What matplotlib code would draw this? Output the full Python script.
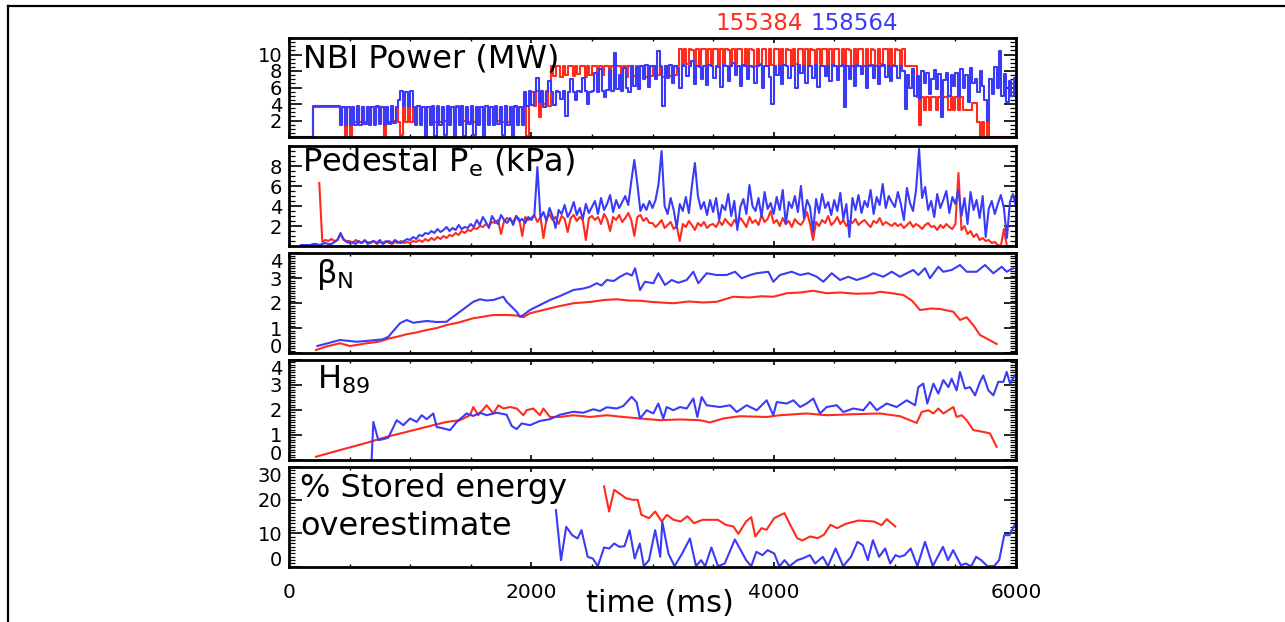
import numpy as np
import matplotlib
matplotlib.use("Agg")
import matplotlib.pyplot as plt
from matplotlib.lines import Line2D
from matplotlib.ticker import MultipleLocator

plt.rcParams["font.family"] = ["DejaVu Sans"]
plt.rcParams["mathtext.fontset"] = "dejavusans"

RED = "#ff2b1c"
BLUE = "#3b3bf7"
nan = np.nan

SHOT_RED = "155384"
SHOT_BLUE = "158564"

# NBI power (MW), one sample every 20 ms from t = 0 (25 samples per row)
NBI_DT = 20
nbi_red = [
    0, 0, 0, 0, 0, 0, 0, 0, 0, 0, 3.6, 3.6, 3.6, 3.6, 3.6, 3.6, 3.6, 3.6, 3.6, 3.6, 3.6, 1.8, 3.6, 0.1, 3.6,
    0.1, 3.6, 1.8, 3.6, 1.8, 3.6, 1.8, 3.6, 1.9, 3.6, 1.8, 3.6, 1.8, 3.6, 0.1, 3.6, 1.8, 3.6, 1.9, 3.6, 1.8, 0.2, 3.6, 1.8, 3.7,
    1.8, 3.6, 1.8, 3.7, 1.8, 3.6, 1.9, 3.6, 1.8, 3.6, 1.8, 3.7, 1.8, 3.6, 1.9, 3.6, 1.8, 3.6, 1.8, 3.7, 1.8, 3.6, 1.9, 3.6, 1.8,
    3.6, 1.8, 3.6, 1.9, 3.6, 1.8, 3.7, 1.8, 3.6, 1.8, 3.6, 1.9, 3.6, 1.8, 3.7, 1.8, 3.6, 1.8, 3.6, 1.9, 3.6, 1.8, 4.0, 0.1, 4.2,
    5.5, 3.7, 5.6, 2.4, 5.5, 4.0, 5.6, 3.8, 8.6, 7.4, 8.6, 8.6, 7.3, 8.6, 7.5, 8.6, 8.6, 7.4, 8.6, 7.6, 8.6, 8.6, 7.3, 8.6, 7.5,
    8.6, 8.6, 7.4, 8.6, 7.5, 8.6, 8.6, 7.3, 8.6, 7.4, 8.6, 8.6, 7.5, 8.6, 7.3, 8.6, 8.6, 7.4, 8.6, 7.5, 8.6, 8.6, 7.3, 8.6, 7.4,
    8.6, 8.6, 7.5, 8.6, 7.3, 8.6, 8.6, 7.4, 8.6, 7.5, 8.6, 10.7, 8.6, 10.7, 8.8, 10.7, 10.6, 8.6, 10.7, 8.7, 10.7, 10.7, 8.6, 10.7, 8.8,
    10.7, 10.7, 8.6, 10.7, 8.7, 10.7, 10.6, 8.6, 10.7, 8.8, 10.7, 10.7, 8.6, 10.7, 8.7, 10.7, 10.6, 8.6, 10.7, 8.8, 10.7, 10.7, 8.6, 10.7, 8.7,
    10.7, 10.7, 8.6, 10.7, 8.7, 10.7, 10.6, 8.6, 10.7, 8.8, 10.7, 10.7, 8.6, 10.7, 8.7, 10.7, 10.6, 8.6, 10.7, 8.8, 10.7, 10.7, 8.6, 10.7, 8.7,
    10.7, 10.7, 8.6, 10.7, 8.7, 10.7, 10.6, 8.6, 10.7, 8.8, 10.7, 10.7, 8.6, 10.7, 8.7, 10.7, 10.6, 8.6, 10.7, 8.8, 10.7, 10.7, 8.6, 10.7, 8.7,
    10.7, 10.6, 8.6, 10.7, 8.6, 8.6, 8.6, 8.6, 8.6, 4.9, 1.5, 4.9, 3.3, 4.9, 3.3, 4.9, 4.9, 3.3, 4.9, 3.3, 4.9, 4.9, 3.3, 4.9, 3.3,
    4.9, 3.3, 4.9, 3.3, 3.3, 3.3, 3.3, 4.1, 4.1, 1.85, 0, 1.85, 0, 1.85, 0, 0, 0, 0, 0, 0, 0, 0, 0, 0, 0,
    0,
]
nbi_blue = [
    0, 0, 0, 0, 0, 0, 0, 0, 0, 0, 3.7, 3.7, 3.7, 3.7, 3.7, 3.7, 3.7, 3.7, 3.7, 3.7, 3.7, 1.5, 3.6, 1.5, 3.6,
    1.4, 3.6, 1.5, 3.7, 1.5, 3.6, 1.6, 3.6, 1.5, 3.6, 1.5, 3.7, 1.6, 3.6, 1.5, 3.6, 1.6, 3.7, 1.7, 3.6, 4.5, 5.6, 3.7, 5.5, 3.8,
    5.6, 3.6, 1.5, 3.7, 1.4, 3.6, 0.1, 3.6, 1.5, 3.7, 0.1, 3.6, 1.5, 3.6, 0.2, 3.7, 1.5, 3.6, 0.1, 3.6, 1.5, 3.7, 0.1, 3.6, 1.6,
    3.7, 0.2, 3.6, 1.5, 3.6, 0.1, 3.7, 1.5, 3.6, 1.5, 3.7, 1.6, 3.6, 0.2, 3.7, 1.5, 3.6, 0.1, 3.7, 1.5, 3.6, 1.5, 5.5, 3.8, 5.6,
    3.9, 5.5, 7.1, 4.2, 5.6, 3.6, 5.5, 6.8, 5.4, 3.9, 5.6, 5.5, 4.6, 5.6, 2.5, 5.5, 7.0, 5.5, 4.5, 5.6, 5.5, 7.2, 5.6, 4.0, 5.5,
    5.6, 7.8, 5.5, 8.2, 5.6, 4.8, 5.7, 8.0, 5.6, 10.2, 5.8, 7.5, 5.6, 8.4, 6.0, 5.5, 8.6, 6.2, 8.5, 5.8, 8.6, 7.0, 8.7, 6.1, 8.6,
    8.6, 7.0, 10.4, 8.5, 3.8, 8.6, 7.2, 8.7, 6.5, 8.6, 8.4, 6.0, 8.7, 8.6, 7.4, 8.6, 9.2, 6.4, 8.6, 8.5, 7.0, 8.6, 6.3, 8.7, 8.6,
    7.2, 8.6, 8.5, 6.1, 8.7, 8.6, 6.8, 8.6, 9.0, 7.5, 8.6, 6.2, 8.7, 8.6, 7.0, 8.6, 8.5, 6.6, 8.6, 8.7, 5.9, 8.6, 8.6, 7.3, 4.0,
    8.6, 7.5, 8.6, 6.4, 8.7, 8.6, 7.1, 8.6, 8.6, 6.0, 8.7, 7.8, 8.6, 6.5, 8.6, 8.6, 7.2, 8.7, 6.1, 8.6, 8.6, 7.4, 8.6, 6.8, 8.7,
    8.6, 6.9, 8.6, 8.7, 3.6, 8.6, 7.0, 8.6, 6.2, 8.7, 8.6, 7.6, 8.6, 6.0, 8.6, 8.7, 7.1, 8.6, 6.4, 8.6, 8.7, 7.3, 8.6, 6.8, 8.6,
    8.6, 7.2, 8.6, 8.0, 3.4, 7.5, 6.0, 8.2, 5.0, 7.4, 4.6, 8.0, 6.5, 7.7, 5.2, 7.0, 8.1, 5.8, 7.6, 2.4, 6.9, 7.8, 5.0, 7.5, 6.2,
    7.8, 5.0, 8.2, 6.0, 7.5, 4.2, 8.4, 6.6, 7.0, 5.5, 8.0, 6.2, 4.5, 2.0, 7.0, 5.2, 8.5, 6.0, 10.4, 5.0, 7.6, 4.2, 6.8, 5.0, 7.2,
    5.8,
]

# pedestal electron pressure (kPa), one sample every 25 ms (20 per row)
PE_DT = 25
pe_red = [
    nan, nan, nan, nan, nan, nan, nan, nan, nan, nan, 6.3, 0.4, 0.6, 0.5, 0.7, 0.5, 0.6, 1.2, 0.6, 0.5,
    0.5, 0.3, 0.6, 0.4, 0.3, 0.5, 0.4, 0.3, 0.5, 0.2, 0.4, 0.3, 0.5, 0.3, 0.2, 0.4, 0.3, 0.5, 0.3, 0.4,
    0.3, 0.5, 0.4, 0.6, 0.4, 0.7, 0.5, 0.8, 0.6, 0.9, 0.7, 1.0, 0.8, 1.1, 1.0, 1.3, 1.1, 1.5, 1.3, 1.6,
    1.5, 1.8, 1.7, 2.0, 1.9, 2.2, 2.0, 2.4, 2.3, 2.6, 1.2, 2.5, 2.8, 2.6, 2.4, 3.0, 2.7, 1.0, 2.9, 2.6,
    2.8, 3.1, 2.4, 2.9, 0.8, 2.7, 3.2, 2.6, 2.9, 2.2, 3.0, 2.7, 1.4, 2.8, 3.1, 2.5, 2.9, 2.6, 0.6, 2.8,
    3.0, 2.6, 2.9, 2.2, 3.2, 2.7, 1.5, 2.9, 2.6, 3.1, 2.4, 2.8, 3.3, 2.6, 1.0, 2.9, 3.1, 2.5, 2.8, 2.3,
    2.3, 1.9, 2.2, 2.6, 1.8, 2.1, 2.4, 1.7, 2.0, 0.5, 2.2, 1.9, 2.5, 2.1, 1.6, 2.3, 2.0, 2.4, 1.8, 2.1,
    2.2, 1.9, 2.5, 2.1, 2.7, 2.3, 2.0, 2.6, 2.2, 2.8, 2.4, 1.9, 2.9, 2.3, 2.6, 2.1, 3.1, 2.4, 2.7, 3.5,
    2.3, 2.6, 2.0, 2.8, 2.2, 2.5, 1.9, 2.7, 2.3, 2.1, 2.6, 3.4, 2.2, 0.6, 2.4, 2.0, 2.6, 2.3, 3.0, 2.1,
    2.4, 2.9, 2.2, 2.6, 2.0, 2.5, 2.3, 2.7, 2.1, 2.4, 2.6, 2.2, 1.9, 2.5, 2.3, 2.8, 2.1, 2.4, 2.2, 2.0,
    2.3, 2.0, 2.2, 1.8, 2.1, 2.4, 1.9, 2.2, 2.0, 1.7, 2.1, 2.3, 1.9, 2.0, 1.6, 2.1, 1.8, 2.2, 1.9, 1.7,
    2.2, 7.3, 1.6, 2.0, 1.2, 1.5, 0.9, 1.2, 0.6, 0.8, 0.5, 0.6, 0.3, 0.4, 0.1, 0.0, 1.7, 0.0, 0.0, 0.0,
    0.0,
]
pe_blue = [
    nan, nan, nan, nan, 0.1, 0.1, 0.1, 0.1, 0.2, 0.2, 0.1, 0.2, 0.3, 0.2, 0.2, 0.4, 0.6, 1.3, 0.7, 0.4,
    0.3, 0.4, 0.2, 0.5, 0.3, 0.6, 0.2, 0.4, 0.5, 0.3, 0.6, 0.2, 0.4, 0.5, 0.3, 0.6, 0.4, 0.3, 0.5, 0.7,
    0.6, 0.9, 0.7, 1.1, 1.0, 1.3, 1.2, 1.5, 1.3, 1.7, 1.4, 1.6, 1.9, 1.5, 1.8, 1.6, 2.1, 1.7, 1.9, 1.8,
    2.2, 1.9, 2.6, 2.1, 2.9, 2.4, 1.8, 3.0, 2.5, 2.2, 3.1, 2.6, 2.3, 2.8, 2.1, 3.0, 2.5, 2.7, 2.3, 2.9,
    2.6, 3.1, 7.9, 2.8, 3.4, 2.5, 3.8, 3.0, 1.8, 3.6, 3.2, 4.1, 2.9, 3.5, 4.4, 3.1, 3.8, 2.7, 4.2, 3.3,
    3.9, 4.5, 3.2, 4.8, 3.6, 4.2, 5.1, 3.4, 4.6, 3.8, 4.4, 5.0, 4.1, 6.5, 8.6, 6.2, 3.5, 4.2, 3.6, 4.5,
    3.8, 4.6, 6.2, 9.5, 4.0, 3.2, 4.8, 3.6, 1.8, 4.2, 3.5, 4.9, 3.3, 6.0, 8.3, 5.0, 3.7, 4.4, 3.1, 4.6,
    3.4, 4.8, 2.6, 4.1, 3.6, 5.2, 3.0, 4.5, 1.6, 3.9, 4.7, 3.2, 6.1, 4.0, 3.5, 4.8, 2.9, 5.4, 3.7, 4.3,
    3.2, 4.9, 3.6, 5.6, 2.2, 4.4, 3.8, 5.0, 3.4, 6.0, 2.8, 4.6, 3.9, 1.4, 4.7, 3.3, 5.2, 3.8, 4.4, 3.1,
    4.6, 3.5, 5.3, 2.7, 4.2, 0.9, 4.8, 3.6, 5.1, 3.3, 4.5, 3.9, 5.6, 3.2, 4.9, 4.1, 6.2, 3.8, 5.0, 4.4,
    3.9, 5.4, 4.2, 2.6, 5.8, 4.3, 3.5, 5.6, 9.7, 4.8, 5.9, 3.6, 4.5, 2.9, 5.2, 3.8, 4.6, 5.5, 3.3, 4.9,
    4.2, 5.6, 3.0, 4.8, 2.2, 5.4, 3.6, 4.6, 2.8, 5.0, 0.9, 3.7, 4.5, 3.2, 4.2, 5.1, 3.8, 0.8, 4.4, 5.2,
    3.9,
]

# normalised beta, (time ms, value)
betan_red = [
    (223, 0.12), (300, 0.25), (421, 0.39), (503, 0.28), (570, 0.33), (641, 0.39), (740, 0.45), (834, 0.59),
    (900, 0.66), (971, 0.75), (1050, 0.82), (1136, 0.92), (1220, 1.00), (1301, 1.12), (1400, 1.22), (1521, 1.39),
    (1600, 1.45), (1686, 1.52), (1796, 1.52), (1880, 1.50), (1934, 1.43), (1989, 1.59), (2100, 1.72), (2209, 1.85),
    (2347, 1.99), (2500, 2.05), (2600, 2.12), (2704, 2.15), (2800, 2.10), (2897, 2.09), (3000, 2.04), (3172, 1.99),
    (3300, 2.06), (3420, 2.02), (3530, 2.05), (3667, 2.25), (3800, 2.22), (3900, 2.27), (3997, 2.25), (4108, 2.39),
    (4220, 2.42), (4327, 2.49), (4437, 2.39), (4550, 2.42), (4680, 2.37), (4822, 2.39), (4878, 2.45), (4960, 2.40),
    (5070, 2.32), (5140, 2.10), (5208, 1.72), (5300, 1.78), (5373, 1.76), (5483, 1.65), (5538, 1.32), (5593, 1.43),
    (5650, 1.10), (5703, 0.72), (5780, 0.52), (5841, 0.36),
]
betan_blue = [
    (234, 0.28), (421, 0.52), (558, 0.45), (680, 0.50), (778, 0.55), (820, 0.65), (916, 1.19), (971, 1.32),
    (1026, 1.21), (1136, 1.28), (1220, 1.24), (1301, 1.25), (1329, 1.36), (1466, 1.85), (1521, 2.05), (1576, 2.15),
    (1630, 2.10), (1686, 2.12), (1769, 2.25), (1796, 2.05), (1879, 1.65), (1906, 1.45), (1934, 1.52), (1989, 1.72),
    (2071, 1.92), (2154, 2.12), (2237, 2.28), (2347, 2.52), (2430, 2.58), (2484, 2.65), (2539, 2.79), (2580, 2.70),
    (2622, 2.92), (2680, 2.88), (2732, 3.05), (2787, 3.19), (2830, 3.10), (2856, 3.39), (2897, 2.52), (2938, 2.85),
    (3007, 2.79), (3048, 3.19), (3103, 2.72), (3158, 2.92), (3213, 2.81), (3282, 2.92), (3337, 3.25), (3378, 2.79),
    (3447, 3.19), (3530, 3.12), (3612, 3.12), (3681, 3.25), (3736, 2.99), (3805, 3.12), (3860, 3.19), (3956, 3.25),
    (3997, 2.85), (4052, 3.12), (4149, 3.25), (4218, 3.12), (4286, 3.19), (4355, 3.05), (4410, 2.85), (4479, 3.19),
    (4548, 2.92), (4616, 3.05), (4685, 2.92), (4768, 3.05), (4823, 3.19), (4905, 3.05), (4974, 3.25), (5043, 3.05),
    (5098, 3.19), (5153, 3.32), (5194, 3.12), (5249, 3.39), (5290, 2.99), (5359, 3.45), (5400, 3.25), (5469, 3.32),
    (5538, 3.52), (5593, 3.25), (5675, 3.25), (5744, 3.52), (5813, 3.19), (5882, 3.45), (5923, 3.25), (5978, 3.39),
]

# H89 confinement factor, (time ms, value)
h89_red = [
    (223, 0.11), (421, 0.38), (641, 0.67), (806, 0.91), (971, 1.11), (1191, 1.38), (1301, 1.51), (1411, 1.58),
    (1494, 1.78), (1521, 2.11), (1562, 1.78), (1631, 2.18), (1686, 1.85), (1728, 2.18), (1769, 2.05), (1824, 2.11),
    (1879, 2.05), (1934, 1.78), (1961, 1.98), (2016, 2.05), (2071, 1.78), (2099, 2.05), (2154, 1.71), (2237, 1.71),
    (2347, 1.78), (2484, 1.71), (2622, 1.78), (2759, 1.71), (2897, 1.65), (3062, 1.58), (3227, 1.61), (3392, 1.58),
    (3475, 1.49), (3585, 1.65), (3722, 1.74), (3942, 1.71), (4052, 1.78), (4272, 1.85), (4437, 1.78), (4657, 1.82),
    (4878, 1.85), (5043, 1.74), (5180, 1.47), (5222, 1.91), (5277, 1.98), (5318, 1.85), (5359, 2.05), (5400, 1.85),
    (5442, 1.98), (5483, 2.11), (5510, 1.71), (5552, 1.78), (5593, 1.58), (5648, 1.18), (5730, 1.11), (5785, 1.05),
    (5840, 0.51),
]
h89_blue = [
    (682, 0.0), (696, 1.51), (737, 0.78), (780, 0.82), (820, 0.88), (889, 1.58), (944, 1.38), (999, 1.65),
    (1054, 1.51), (1095, 1.78), (1136, 1.62), (1191, 1.85), (1219, 1.31), (1274, 1.25), (1329, 1.18), (1384, 1.51),
    (1466, 1.85), (1521, 1.75), (1576, 1.88), (1631, 1.78), (1714, 1.88), (1796, 1.80), (1838, 1.35), (1879, 1.22),
    (1920, 1.45), (1989, 1.38), (2071, 1.55), (2154, 1.62), (2237, 1.80), (2347, 1.92), (2429, 1.88), (2512, 2.02),
    (2567, 1.95), (2622, 2.10), (2704, 2.05), (2759, 2.15), (2828, 2.52), (2869, 2.30), (2897, 1.65), (2952, 1.98),
    (3007, 1.85), (3048, 2.25), (3089, 1.65), (3117, 2.11), (3172, 1.98), (3227, 2.11), (3282, 2.05), (3337, 2.45),
    (3370, 1.71), (3406, 2.51), (3447, 2.18), (3557, 2.11), (3640, 2.18), (3695, 1.91), (3777, 2.18), (3860, 1.98),
    (3942, 2.38), (3997, 1.78), (4025, 2.31), (4108, 2.25), (4163, 2.38), (4218, 2.11), (4272, 2.25), (4327, 2.45),
    (4382, 1.85), (4437, 2.11), (4520, 2.18), (4575, 1.91), (4657, 2.05), (4740, 1.98), (4795, 2.31), (4850, 1.98),
    (4933, 2.25), (5015, 2.11), (5098, 2.38), (5167, 2.18), (5194, 2.91), (5235, 3.05), (5268, 2.25), (5318, 3.05),
    (5359, 2.65), (5400, 3.19), (5442, 2.91), (5469, 3.25), (5510, 2.78), (5538, 3.52), (5579, 2.85), (5620, 2.91),
    (5662, 2.58), (5703, 3.12), (5730, 3.38), (5772, 2.78), (5813, 2.58), (5854, 3.12), (5896, 3.12), (5923, 3.52),
    (5951, 3.05), (5992, 3.38),
]

# stored energy overestimate (%), (time ms, value)
wmhd_red = [
    (2600, 24.0), (2642, 16.5), (2684, 23.0), (2781, 20.5), (2836, 20.0), (2878, 20.0), (2908, 15.5), (2971, 14.5),
    (3022, 16.5), (3076, 13.5), (3119, 15.5), (3174, 14.0), (3233, 13.5), (3288, 15.1), (3342, 13.0), (3414, 14.0),
    (3540, 14.0), (3604, 12.5), (3667, 12.0), (3709, 9.8), (3772, 13.5), (3815, 14.8), (3848, 9.0), (3899, 11.5),
    (3941, 11.0), (4004, 14.5), (4089, 16.0), (4144, 12.0), (4194, 8.5), (4237, 7.8), (4300, 9.0), (4363, 8.5),
    (4414, 9.5), (4469, 12.5), (4524, 11.5), (4595, 12.8), (4701, 13.8), (4827, 13.5), (4890, 12.4), (4933, 14.2),
    (5004, 12.0),
]
wmhd_blue = [
    (2203, 16.9), (2245, 1.9), (2288, 11.9), (2338, 9.4), (2381, 8.4), (2414, 10.9), (2465, 2.9), (2507, 2.4),
    (2549, 0.1), (2600, 5.7), (2642, 5.4), (2684, 6.9), (2726, 5.9), (2769, 6.1), (2811, 10.9), (2853, 2.4),
    (2895, 6.9), (2929, 0.1), (2971, 1.9), (3022, 10.9), (3064, 2.9), (3081, 13.4), (3131, 3.9), (3182, 0.1),
    (3245, 3.9), (3309, 8.4), (3359, 0.1), (3401, 1.9), (3435, 0.1), (3486, 5.7), (3541, 0.1), (3596, 0.9),
    (3680, 8.1), (3773, 1.9), (3815, 0.1), (3857, 4.4), (3908, 3.4), (3950, 4.9), (4005, 3.9), (4047, 0.0),
    (4089, 1.9), (4131, 0.1), (4195, 1.9), (4237, 2.4), (4300, 3.4), (4342, 0.9), (4406, 2.9), (4448, 0.1),
    (4511, 5.4), (4574, 0.1), (4638, 2.9), (4692, 7.4), (4735, 6.4), (4777, 1.9), (4819, 7.9), (4870, 2.9),
    (4920, 5.4), (4962, 0.9), (5005, 3.4), (5038, 2.9), (5081, 3.4), (5131, 5.4), (5186, 0.1), (5249, 7.4),
    (5313, 0.1), (5397, 5.9), (5439, 1.9), (5481, 4.9), (5545, 0.4), (5587, 0.9), (5629, 0.0), (5671, 2.9),
    (5713, 1.9), (5764, 0.1), (5819, 0.1), (5861, 1.9), (5903, 9.4), (5946, 9.4), (5988, 12.4),
]

W, H = 1285, 622
fig = plt.figure(figsize=(W / 100, H / 100), dpi=100)

# panel boxes in pixels: (top, bottom)
X0, X1 = 289, 1016
rows = [(38, 137), (146, 246), (253, 353), (360, 459.5), (466.5, 566.5)]
axes = []
for top, bot in rows:
    ax = fig.add_axes([X0 / W, 1 - bot / H, (X1 - X0) / W, (bot - top) / H])
    axes.append(ax)
ax1, ax2, ax3, ax4, ax5 = axes

LW = 1.5


def pairs(data):
    t, v = zip(*data)
    return np.array(t), np.array(v)


# NBI power
t_nbi = np.arange(len(nbi_red)) * NBI_DT
ax1.plot(t_nbi, nbi_red, color=RED, lw=LW, drawstyle="steps-post", clip_on=False)
ax1.plot(t_nbi, nbi_blue, color=BLUE, lw=LW, drawstyle="steps-post")

# pedestal pressure
t_pe = np.arange(len(pe_red)) * PE_DT
ax2.plot(t_pe, pe_red, color=RED, lw=LW)
ax2.plot(t_pe, pe_blue, color=BLUE, lw=LW)

for ax, red, blue in [(ax3, betan_red, betan_blue), (ax4, h89_red, h89_blue), (ax5, wmhd_red, wmhd_blue)]:
    ax.plot(*pairs(red), color=RED, lw=LW)
    ax.plot(*pairs(blue), color=BLUE, lw=LW)

# axis ranges and ticks
limits = [(0, 12), (0, 10), (0, 4), (0, 4), (0, 30)]
majors = [[2, 4, 6, 8, 10], [2, 4, 6, 8], [0, 1, 2, 3, 4], [0, 1, 2, 3, 4], [0, 10, 20, 30]]
minors = [0.5, 0.5, 0.1, 0.1, 1]

for ax, lim, maj, mnr in zip(axes, limits, majors, minors):
    ax.set_xlim(0, 6000)
    ax.set_ylim(*lim)
    ax.set_yticks(maj)
    ax.set_yticklabels([str(m) for m in maj])
    ax.yaxis.set_minor_locator(MultipleLocator(mnr))
    ax.set_xticks([0, 2000, 4000, 6000])
    ax.xaxis.set_minor_locator(MultipleLocator(500))
    ax.tick_params(axis="y", which="major", direction="in", length=9, width=1.2,
                   left=True, right=True, labelsize=14, pad=5)
    ax.tick_params(axis="y", which="minor", direction="in", length=4.5, width=0.9,
                   left=True, right=True)
    ax.tick_params(axis="x", which="major", direction="in", length=3.5, width=1.2,
                   top=True, bottom=True, labelsize=14.5, pad=12)
    ax.tick_params(axis="x", which="minor", direction="in", length=2.5, width=1.0,
                   top=True, bottom=True)
    for sp in ax.spines.values():
        sp.set_linewidth(2.0)
    if ax is not ax5:
        ax.tick_params(axis="x", labelbottom=False)
    if lim[0] == maj[0]:
        # keep the end labels inside the panel height
        ticks = ax.yaxis.get_major_ticks()
        ticks[0].label1.set_verticalalignment("baseline")
        ticks[-1].label1.set_verticalalignment("top")

# panel titles
LABEL_SIZE = 23
ax1.text(0.019, 0.707, "NBI Power (MW)", transform=ax1.transAxes, fontsize=LABEL_SIZE, va="baseline")
ax2.text(0.018, 0.743, r"Pedestal P$_\mathregular{e}$ (kPa)", transform=ax2.transAxes,
         fontsize=LABEL_SIZE, va="baseline")
ax3.text(0.037, 0.70, r"$\mathregular{\beta_N}$", transform=ax3.transAxes, fontsize=LABEL_SIZE, va="baseline")
ax4.text(0.0385, 0.716, r"H$_\mathregular{89}$", transform=ax4.transAxes, fontsize=LABEL_SIZE, va="baseline")
ax5.text(0.015, 0.695, "% Stored energy", transform=ax5.transAxes, fontsize=LABEL_SIZE, va="baseline")
ax5.text(0.015, 0.315, "overestimate", transform=ax5.transAxes, fontsize=LABEL_SIZE, va="baseline")

fig.text(660 / W, 1 - 612 / H, "time (ms)", fontsize=22, ha="center", va="baseline")

# shot numbers
fig.text(715 / W, 1 - 30 / H, SHOT_RED, color=RED, fontsize=16.5, va="baseline")
fig.text(810 / W, 1 - 30 / H, SHOT_BLUE, color=BLUE, fontsize=16.5, va="baseline")

# frame lines
fig.add_artist(Line2D([8 / W, 1], [1 - 5.5 / H, 1 - 5.5 / H], transform=fig.transFigure, color="k", lw=1.6))
fig.add_artist(Line2D([8 / W, 8 / W], [0, 1 - 5.5 / H], transform=fig.transFigure, color="k", lw=1.6))

fig.savefig("out.png", dpi=100)
